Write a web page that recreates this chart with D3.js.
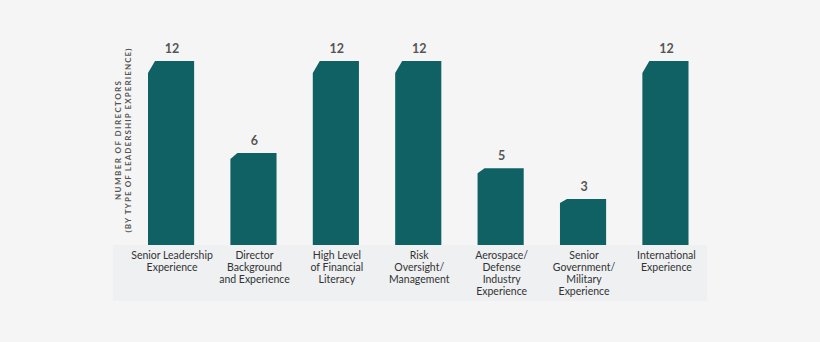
<!DOCTYPE html>
<html><head><meta charset="utf-8">
<script src="https://cdn.jsdelivr.net/npm/d3@7"></script>
<style>html,body{margin:0;padding:0;background:#f5f5f5}svg{display:block}</style>
</head><body><svg id="c" width="820" height="342"></svg>
<script>
const categories = [
  "Senior Leadership\nExperience",
  "Director\nBackground\nand Experience",
  "High Level\nof Financial\nLiteracy",
  "Risk\nOversight/\nManagement",
  "Aerospace/\nDefense\nIndustry\nExperience",
  "Senior\nGovernment/\nMilitary\nExperience",
  "International\nExperience"
];
const values = [12, 6, 12, 12, 5, 3, 12];
const yTitle = ["NUMBER OF DIRECTORS", "(BY TYPE OF LEADERSHIP EXPERIENCE)"];

const svg = d3.select("#c");
const base = 245;
const x = d3.scaleBand().domain(d3.range(categories.length)).range([106.8, 729.7]).paddingInner(0.44).paddingOuter(0.5);
const y = d3.scaleLinear().domain([0, 12]).range([base, 61]);

svg.append("rect").attr("width", 820).attr("height", 342).attr("fill", "#f5f5f5");
svg.append("rect").attr("x", 113).attr("y", base).attr("width", 594).attr("height", 56).attr("fill", "#eef0f1");

const w = x.bandwidth();
svg.selectAll("path.bar").data(values).join("path").attr("class", "bar")
  .attr("fill", "#0f6163")
  .attr("d", (d, i) => {
    const x0 = x(i), t = y(d), h = base - t, cv = Math.max(4, h * 0.065), ch = 7;
    return `M${x0},${base}L${x0},${t + cv}L${x0 + ch},${t}L${x0 + w},${t}L${x0 + w},${base}Z`;
  });

svg.selectAll("text.val").data(values).join("text").attr("class", "val")
  .attr("x", (d, i) => x(i) + w / 2 + 1).attr("y", d => y(d) - 8)
  .attr("text-anchor", "middle").attr("font-family", "Lato, sans-serif")
  .attr("font-weight", 700).attr("font-size", 12.5).attr("fill", "#555")
  .text(d => d);

const lab = svg.selectAll("text.cat").data(categories).join("text").attr("class", "cat")
  .attr("text-anchor", "middle").attr("font-family", "Lato, sans-serif")
  .attr("font-size", 10.5).attr("fill", "#333");
lab.each(function (d, i) {
  d3.select(this).selectAll("tspan").data(d.split("\n")).join("tspan")
    .attr("x", x(i) + w / 2 + 1).attr("y", (s, j) => 258.5 + j * 12.3).text(s => s);
});

const tx = [118, 128.5], lens = [120, 185];
yTitle.forEach((t, k) => {
  svg.append("text").attr("transform", `translate(${tx[k] + 2.8},140) rotate(-90)`)
    .attr("text-anchor", "middle").attr("font-family", "Lato, sans-serif")
    .attr("font-weight", 700).attr("font-size", 8).attr("fill", "#555")
    .attr("letter-spacing", 1)
    .attr("textLength", lens[k]).attr("lengthAdjust", "spacing")
    .text(t);
});
</script></body></html>
